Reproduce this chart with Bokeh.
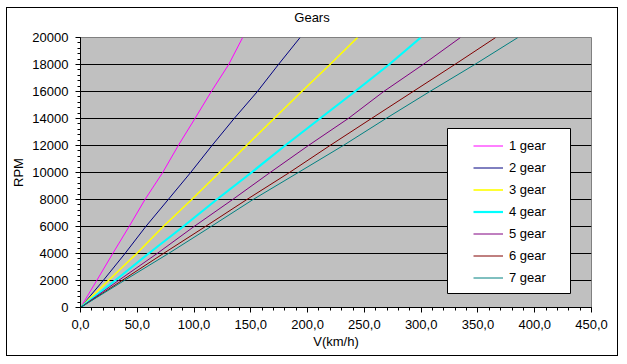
from bokeh.plotting import figure
from bokeh.models import Range1d, Legend, LegendItem, BoxAnnotation, FixedTicker, Div
from bokeh.layouts import column
from bokeh.embed import file_html
from bokeh.resources import INLINE

# ---- data ----
rpm = [0, 2000, 4000, 6000, 8000, 10000, 12000, 14000, 16000, 18000, 20000]
gear1 = [0, 14.3, 28.4, 42.8, 56.8, 72.4, 86.1, 100.8, 115.2, 130.5, 142.8]
gear2 = [0, 20.0, 39.2, 57.5, 77.3, 97.0, 115.8, 135.3, 155.8, 174.3, 193.4]
gear3 = [0, 24.6, 49.5, 72.9, 97.9, 122.3, 146.2, 170.5, 194.8, 219.7, 244.0]
gear4 = [0, 30.5, 60.0, 90.5, 120.0, 150.6, 180.2, 210.9, 241.7, 271.8, 299.7]
gear5 = [0, 33.5, 67.5, 100.0, 134.0, 167.0, 200.7, 235.8, 267.0, 301.7, 334.6]
gear6 = [0, 36.5, 73.0, 110.0, 146.5, 184.0, 219.7, 256.2, 292.9, 329.6, 365.6]
gear7 = [0, 38.5, 77.5, 115.0, 152.0, 191.8, 231.4, 269.0, 307.6, 347.2, 385.2]
series = [gear1, gear2, gear3, gear4, gear5, gear6, gear7]
labels = ["1 gear", "2 gear", "3 gear", "4 gear", "5 gear", "6 gear", "7 gear"]
colors = ["#FF00FF", "#000080", "#FFFF00", "#00FFFF", "#800080", "#800000", "#008080"]
widths = [1, 1, 1.6, 2.2, 1, 1, 1]

title_text = "Gears"
x_ticks = [0, 50, 100, 150, 200, 250, 300, 350, 400, 450]
x_tick_labels = ["0,0", "50,0", "100,0", "150,0", "200,0", "250,0", "300,0", "350,0", "400,0", "450,0"]
y_ticks = [0, 2000, 4000, 6000, 8000, 10000, 12000, 14000, 16000, 18000, 20000]
y_tick_labels = ["0", "2000", "4000", "6000", "8000", "10000", "12000", "14000", "16000", "18000", "20000"]

FONT = "Liberation Sans"
FW, FH = 511, 270
XMAX, YMAX = 450, 20000

# title as a small text block above the figure
title = Div(text=title_text, width=610, height=20, margin=(0, 0, 0, 0),
            styles={"font-family": FONT, "font-size": "13px", "text-align": "center",
                    "line-height": "20px", "color": "black", "width": "610px"})

p = figure(title=None, frame_width=FW, frame_height=FH,
           x_range=Range1d(0, XMAX), y_range=Range1d(0, YMAX),
           output_backend="svg", toolbar_location=None,
           min_border_left=73, min_border_right=26,
           min_border_top=9, min_border_bottom=48)

p.background_fill_color = "#C0C0C0"
p.border_fill_color = "white"
p.outline_line_color = "#808080"
p.outline_line_width = 1

p.xgrid.grid_line_color = None
p.ygrid.grid_line_color = "black"
p.ygrid.grid_line_width = 1
p.ygrid.ticker = FixedTicker(ticks=y_ticks)

p.xaxis.ticker = FixedTicker(ticks=x_ticks, minor_ticks=[v for v in range(0, XMAX + 1, 10)])
p.yaxis.ticker = FixedTicker(ticks=y_ticks, minor_ticks=[v for v in range(0, YMAX + 1, 400)])
p.xaxis.major_label_overrides = {t: l for t, l in zip(x_ticks, x_tick_labels)}
p.yaxis.major_label_overrides = {t: l for t, l in zip(y_ticks, y_tick_labels)}

for ax in (p.xaxis, p.yaxis):
    ax.axis_line_color = "black"
    ax.major_tick_line_color = "black"
    ax.minor_tick_line_color = "black"
    ax.major_tick_out = 5
    ax.major_tick_in = 0
    ax.minor_tick_out = 3
    ax.minor_tick_in = 0
    ax.major_label_text_font = FONT
    ax.major_label_text_font_size = "13px"
    ax.major_label_text_color = "black"
    ax.axis_label_text_font = FONT
    ax.axis_label_text_font_size = "13px"
    ax.axis_label_text_font_style = "normal"
    ax.axis_label_text_color = "black"

p.xaxis.axis_label = "V(km/h)"
p.yaxis.axis_label = "RPM"
p.xaxis.major_label_standoff = 7
p.yaxis.major_label_standoff = 7
p.xaxis.axis_label_standoff = 2
p.yaxis.axis_label_standoff = 3

renderers = []
for s, c, w in zip(series, colors, widths):
    r = p.line(s, rpm, line_color=c, line_width=w)
    renderers.append(r)

# legend frame (white box with black border)
px_x = XMAX / FW
px_y = YMAX / FH
box = BoxAnnotation(left=367 * px_x, right=490 * px_x,
                    bottom=14 * px_y, top=179 * px_y,
                    fill_color="white", fill_alpha=1.0,
                    line_color="black", line_width=1, line_alpha=1.0)
p.add_layout(box)

legend = Legend(items=[LegendItem(label=l, renderers=[r]) for l, r in zip(labels, renderers)],
                location=(393, 19), orientation="vertical",
                background_fill_alpha=0, border_line_color=None,
                padding=0, margin=0, spacing=1,
                glyph_width=30, glyph_height=21, label_height=21,
                label_standoff=6,
                label_text_font=FONT, label_text_font_size="13px",
                label_text_color="black")
p.add_layout(legend)

page = column(title, p, spacing=0,
              styles={"border": "1px solid black", "margin-left": "6px", "margin-top": "7px",
                      "background-color": "white"})

open("out.html", "w").write(file_html(page, INLINE))
